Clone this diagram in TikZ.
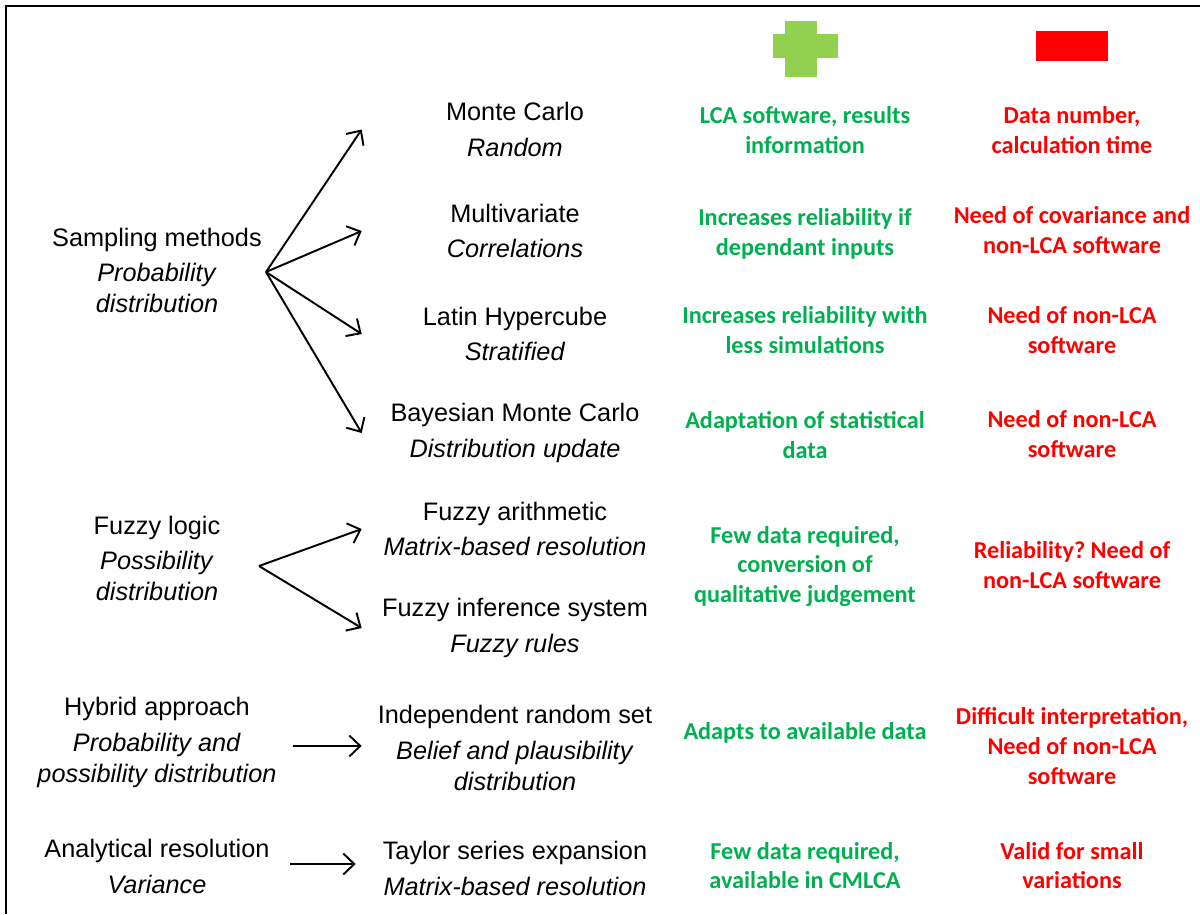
\documentclass[tikz,border=0pt]{standalone}
\usepackage{fontspec}
\setmainfont{Liberation Sans}
\newfontfamily\calibri{Carlito}
\usepackage{xcolor}
\usetikzlibrary{arrows.meta}
\definecolor{plusgreen}{HTML}{92D050}
\definecolor{progreen}{HTML}{00B050}
\definecolor{conred}{HTML}{FF0000}
\frenchspacing

\begin{document}
\begin{tikzpicture}[x=0.02cm, y=-0.02cm,
  every node/.style={align=center, inner sep=2pt},
  family/.style={font=\fontsize{14.4}{17.6}\selectfont},
  method/.style={family, minimum width=6.12cm},
  pro/.style={font=\calibri\bfseries\fontsize{13.8}{17}\selectfont, text=progreen},
  con/.style={pro, text=conred},
  link/.style={line width=1.1pt, -{Straight Barb[length=0.22cm, width=0.42cm]}}]

\useasboundingbox (0,0) rectangle (1200,914);

% Frame (top and left)
\draw[line width=1.6pt] (6,914) -- (6,6) -- (1200,6);

% Plus / minus headers
\fill[plusgreen] (785,21) rectangle (817,77);
\fill[plusgreen] (773,34) rectangle (838,58);
\fill[conred] (1036,31) rectangle (1108,61);

% Families
\node[family] (samp) at (157,270.5) {Sampling methods\\[2.5pt]\textit{Probability}\\\textit{distribution}};
\node[family] (fuzz) at (157,558.5) {Fuzzy logic\\[2.5pt]\textit{Possibility}\\\textit{distribution}};
\node[family] (hyb) at (157,742.5) {Hybrid approach\\[2.5pt]\textit{Probability and}\\\textit{possibility distribution}};
\node[family] (anal) at (157,866.5) {Analytical resolution\\[2.5pt]\textit{Variance}};

% Methods
\node[method] (mc) at (515,129.5) {Monte Carlo\\[2.5pt]\textit{Random}};
\node[method] (mv) at (515,231) {Multivariate\\[2.5pt]\textit{Correlations}};
\node[method] (lh) at (515,334) {Latin Hypercube\\[2.5pt]\textit{Stratified}};
\node[method] (bmc) at (515,433) {Bayesian Monte Carlo\\[2.5pt]\textit{Distribution update}};
\node[method] (fa) at (515,529) {Fuzzy arithmetic\\[2.5pt]\textit{Matrix-based resolution}};
\node[method] (fis) at (515,628) {Fuzzy inference system\\[2.5pt]\textit{Fuzzy rules}};
\node[method] (irs) at (515,748) {Independent random set\\[2.5pt]\textit{Belief and plausibility}\\\textit{distribution}};
\node[method] (tay) at (515,868.5) {Taylor series expansion\\[2.5pt]\textit{Matrix-based resolution}};

% Advantages
\node[pro] (mcpro) at (805,130) {LCA software, results\\information};
\node[pro] (mvpro) at (805,233.5) {Increases reliability if\\dependant inputs};
\node[pro] (lhpro) at (805,330) {Increases reliability with\\less simulations};
\node[pro] (bmcpro) at (805,435) {Adaptation of statistical\\data};
\node[pro] (fuzzpro) at (805,566.5) {Few data required,\\conversion of\\qualitative judgement};
\node[pro] (irspro) at (805,733) {Adapts to available data};
\node[pro] (taypro) at (805,865.5) {Few data required,\\available in CMLCA};

% Drawbacks
\node[con] (mccon) at (1072,130) {Data number,\\calculation time};
\node[con] (mvcon) at (1072,230.5) {Need of covariance and\\non-LCA software};
\node[con] (lhcon) at (1072,330) {Need of non-LCA\\software};
\node[con] (bmccon) at (1072,434.5) {Need of non-LCA\\software};
\node[con] (fuzzcon) at (1072,565.5) {Reliability? Need of\\non-LCA software};
\node[con] (irscon) at (1072,746) {Difficult interpretation,\\Need of non-LCA\\software};
\node[con] (taycon) at (1072,865.5) {Valid for small\\variations};

% Fork points
\coordinate (sampfork) at (266,272);
\coordinate (fuzzfork) at (259,566);
\coordinate (hybfork) at (293,746);
\coordinate (analfork) at (290,864);

% Arrows
\foreach \m in {mc,mv,lh,bmc}
  \draw[link] (sampfork) -- (\m.west);
\foreach \m in {fa,fis}
  \draw[link] (fuzzfork) -- (\m.west);
\draw[link] (hybfork) -- (hybfork -| irs.west);
\draw[link] (analfork) -- ([xshift=-0.12cm]analfork -| tay.west);

\end{tikzpicture}
\end{document}
